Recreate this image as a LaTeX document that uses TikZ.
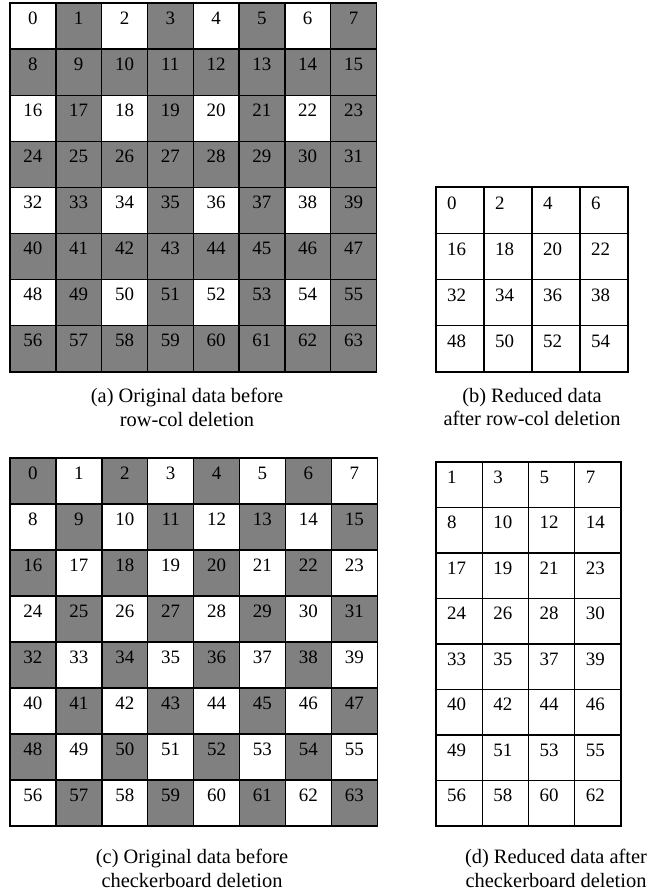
\documentclass[tikz,border=0pt]{standalone}
\usepackage{fontspec}
\setmainfont{Liberation Serif}
\begin{document}
\begin{tikzpicture}[x=1bp, y=-1bp,
    gridline/.style={draw=black, line width=1.4bp},
    celltext/.style={inner sep=0pt, font=\fontsize{19}{20}\selectfont},
    captext/.style={align=center, inner sep=0pt, font=\fontsize{20.5}{24}\selectfont}]
  \useasboundingbox (0,0) rectangle (652,894);
  % (a) original grid, row-col pattern
  \begin{scope}[shift={(10,3)}]
    \foreach \r in {0,...,7} {
      \foreach \c in {0,...,7} {
        \pgfmathtruncatemacro{\n}{8*\r+\c}
        \pgfmathtruncatemacro{\odd}{mod(\r,2)+mod(\c,2)}
        \ifnum\odd=0 \def\shade{white}\else\def\shade{black!50}\fi
        \filldraw[fill=\shade, gridline] (45.8*\c,46.1*\r) rectangle ++(45.8,46.1);
        \node[celltext] (a-\n) at (45.8*\c+22.9,46.1*\r+15) {\n};
      }
    }
  \end{scope}
  % (b) reduced grid after row-col deletion
  \begin{scope}[shift={(436,187)}]
    \foreach \r in {0,...,3} {
      \foreach \c in {0,...,3} {
        \pgfmathtruncatemacro{\n}{16*\r+2*\c}
        \filldraw[fill=white, gridline] (48*\c,46.25*\r) rectangle ++(48,46.25);
        \node[celltext, anchor=west] (b-\n) at (48*\c+11,46.25*\r+16) {\n};
      }
    }
  \end{scope}
  % (c) original grid, checkerboard pattern
  \begin{scope}[shift={(10,458)}]
    \foreach \r in {0,...,7} {
      \foreach \c in {0,...,7} {
        \pgfmathtruncatemacro{\n}{8*\r+\c}
        \pgfmathtruncatemacro{\odd}{mod(\r+\c,2)}
        \ifnum\odd=0 \def\shade{black!50}\else\def\shade{white}\fi
        \filldraw[fill=\shade, gridline] (45.9*\c,46*\r) rectangle ++(45.9,46);
        \node[celltext] (c-\n) at (45.9*\c+22.95,46*\r+15) {\n};
      }
    }
  \end{scope}
  % (d) reduced grid after checkerboard deletion
  \begin{scope}[shift={(436,462)}]
    \foreach \r in {0,...,7} {
      \foreach \c in {0,...,3} {
        \pgfmathtruncatemacro{\n}{8*\r+2*\c+1-mod(\r,2)}
        \filldraw[fill=white, gridline] (46.25*\c,45.5*\r) rectangle ++(46.25,45.5);
        \node[celltext, anchor=west] (d-\n) at (46.25*\c+11,45.5*\r+15) {\n};
      }
    }
  \end{scope}
  % Captions
  \node[captext] (capA) at (187,407) {(a) Original data before\\row-col deletion};
  \node[captext] (capB) at (532,407) {(b) Reduced data\\after row-col deletion};
  \node[captext] (capC) at (192,868) {(c) Original data before\\checkerboard deletion};
  \node[captext] (capD) at (556,868) {(d) Reduced data after\\checkerboard deletion};
\end{tikzpicture}
\end{document}
